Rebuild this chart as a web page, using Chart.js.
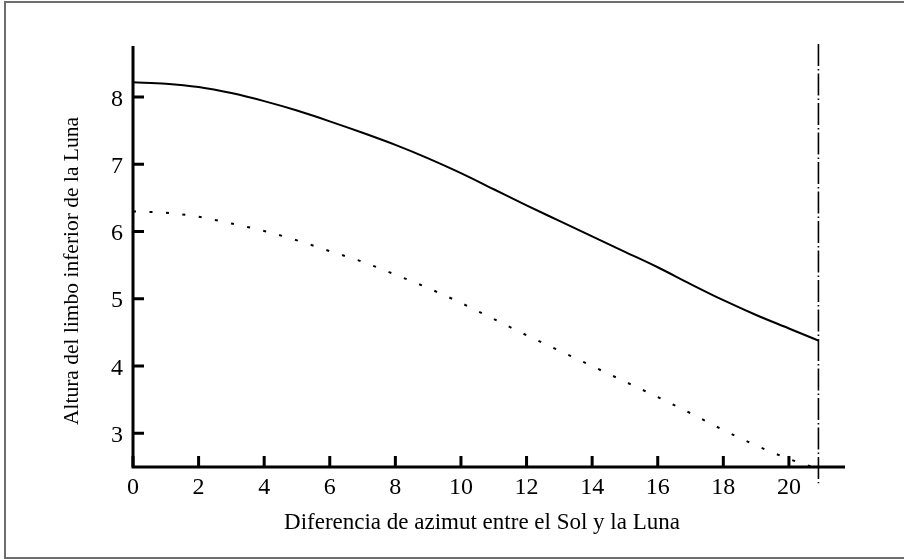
<!DOCTYPE html>
<html>
<head>
<meta charset="utf-8">
<script src="https://cdn.jsdelivr.net/npm/chart.js@4.4.1/dist/chart.umd.min.js"></script>
<style>
  html, body { margin: 0; padding: 0; background: #fff; }
  #wrap { width: 904px; height: 559px; position: relative; }
</style>
</head>
<body>
<div id="wrap"><canvas id="c" width="904" height="559"></canvas></div>
<script>
// Azimuth difference between Sun and Moon (degrees)
const azimuth = [0, 1, 2, 3, 4, 5, 6, 7, 8, 9, 10, 11, 12, 13, 14, 15, 16, 17, 18, 19, 20, 20.9];
// Altitude of the Moon's lower limb (solid curve)
const limbAltitude = [8.22, 8.20, 8.15, 8.06, 7.94, 7.80, 7.64, 7.47, 7.29, 7.09, 6.87, 6.63, 6.39, 6.16, 5.93, 5.70, 5.47, 5.22, 4.98, 4.76, 4.56, 4.38];
// Lower reference curve (dotted)
const dottedAzimuth = [0, 1, 2, 3, 4, 5, 6, 7, 8, 9, 10, 11, 12, 13, 14, 15, 16, 17, 18, 19, 20, 20.9];
const dottedAltitude = [6.30, 6.28, 6.22, 6.12, 6.01, 5.87, 5.71, 5.55, 5.36, 5.16, 4.94, 4.70, 4.46, 4.23, 4.00, 3.77, 3.54, 3.30, 3.05, 2.82, 2.62, 2.47];
// Vertical limit marker
const limitAzimuth = 20.9;
const limitSpan = [8.79, 2.26];
// Axis ticks
const xTicks = [0, 2, 4, 6, 8, 10, 12, 14, 16, 18, 20];
const yTicks = [3, 4, 5, 6, 7, 8];
const xTitle = 'Diferencia de azimut entre el Sol y la Luna';
const yTitle = 'Altura del limbo inferior de la Luna';

const FONT = '"Liberation Serif", "Times New Roman", serif';

const toPoints = (xs, ys) => xs.map((x, i) => ({ x: x, y: ys[i] }));

const axesPlugin = {
  id: 'axesPlugin',
  beforeDraw(chart) {
    const ctx = chart.ctx;
    ctx.save();
    ctx.fillStyle = '#fff';
    ctx.fillRect(0, 0, chart.width, chart.height);
    // outer frame
    ctx.strokeStyle = '#6e6e6e';
    ctx.lineWidth = 2;
    ctx.strokeRect(5, 2, chart.width + 10, chart.height - 3);
    ctx.restore();
  },
  afterDatasetsDraw(chart) {
    const ctx = chart.ctx;
    const xs = chart.scales.x, ys = chart.scales.y;
    const a = chart.chartArea;
    ctx.save();
    ctx.strokeStyle = '#000';
    ctx.fillStyle = '#000';
    ctx.lineCap = 'butt';
    ctx.lineWidth = 3;
    // axis lines
    ctx.beginPath();
    ctx.moveTo(a.left, a.top);
    ctx.lineTo(a.left, a.bottom + 1.5);
    ctx.moveTo(a.left - 1.5, a.bottom);
    ctx.lineTo(a.right, a.bottom);
    ctx.stroke();
    // ticks, pointing inward
    ctx.beginPath();
    xTicks.forEach(v => {
      const px = xs.getPixelForValue(v);
      ctx.moveTo(px, a.bottom);
      ctx.lineTo(px, a.bottom - 11);
    });
    yTicks.forEach(v => {
      const py = ys.getPixelForValue(v);
      ctx.moveTo(a.left, py);
      ctx.lineTo(a.left + 11, py);
    });
    ctx.stroke();
    // tick labels
    ctx.font = '24px ' + FONT;
    ctx.textAlign = 'center';
    ctx.textBaseline = 'alphabetic';
    xTicks.forEach(v => {
      ctx.fillText(String(v), xs.getPixelForValue(v), a.bottom + 27);
    });
    ctx.textAlign = 'right';
    yTicks.forEach(v => {
      ctx.fillText(String(v), a.left - 10, ys.getPixelForValue(v) + 8.5);
    });
    // axis titles
    ctx.font = '23px ' + FONT;
    ctx.textAlign = 'center';
    ctx.fillText(xTitle, 482, 529);
    ctx.font = '21.5px ' + FONT;
    ctx.translate(78, 271);
    ctx.rotate(-Math.PI / 2);
    ctx.fillText(yTitle, 0, 0);
    ctx.restore();
  }
};

new Chart(document.getElementById('c'), {
  type: 'line',
  data: {
    datasets: [
      {
        data: toPoints(azimuth, limbAltitude),
        borderColor: '#000',
        borderWidth: 2,
        pointRadius: 0,
        cubicInterpolationMode: 'monotone',
        fill: false
      },
      {
        data: toPoints(dottedAzimuth, dottedAltitude),
        borderColor: '#000',
        borderWidth: 2,
        borderDash: [3, 13.5],
        pointRadius: 0,
        cubicInterpolationMode: 'monotone',
        fill: false
      },
      {
        data: [{ x: limitAzimuth, y: limitSpan[0] }, { x: limitAzimuth, y: limitSpan[1] }],
        borderColor: '#000',
        borderWidth: 1.6,
        borderDash: [22, 3, 1.5, 3],
        pointRadius: 0,
        clip: false,
        fill: false
      }
    ]
  },
  options: {
    responsive: false,
    animation: false,
    devicePixelRatio: 1,
    layout: { padding: { left: 133, top: 46, right: 59, bottom: 92 } },
    plugins: { legend: { display: false }, tooltip: { enabled: false } },
    scales: {
      x: { type: 'linear', display: false, min: 0, max: 21.71 },
      y: { type: 'linear', display: false, min: 2.5, max: 8.76 }
    }
  },
  plugins: [axesPlugin]
});
</script>
</body>
</html>
